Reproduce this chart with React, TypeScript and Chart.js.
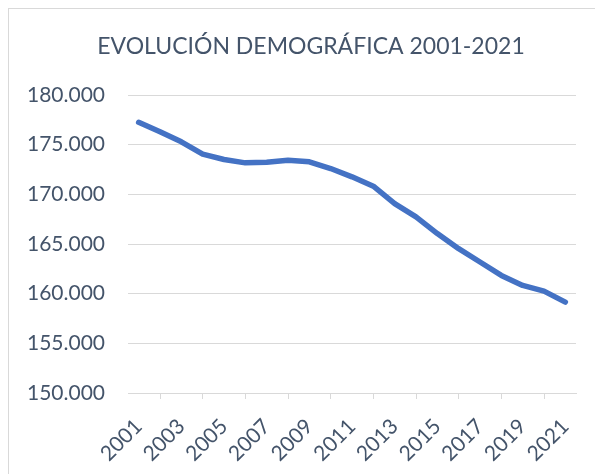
import React, { useEffect, useRef } from "react";
import { Chart, registerables } from "chart.js";

Chart.register(...registerables);

const years: string[] = [
  "2001", "2002", "2003", "2004", "2005", "2006", "2007", "2008", "2009", "2010",
  "2011", "2012", "2013", "2014", "2015", "2016", "2017", "2018", "2019", "2020", "2021",
];
const population: number[] = [
  177250, 176300, 175290, 174050, 173510, 173170, 173240, 173440, 173275, 172600,
  171760, 170820, 169070, 167730, 166050, 164530, 163190, 161840, 160830, 160260, 159150,
];
const titleText = "EVOLUCIÓN DEMOGRÁFICA 2001-2021";
const yMin = 150000;
const yMax = 180000;
const yStep = 5000;

const textColor = "#44546A";
const gridColor = "#D9D9D9";
const lineColor = "#4472C4";
const fontFamily = "Lato, 'Open Sans', sans-serif";

function fmt(v: number): string {
  return Math.round(v).toString().replace(/\B(?=(\d{3})+(?!\d))/g, ".");
}

const titlePlugin = {
  id: "customTitle",
  afterDraw(chart: any) {
    const ctx = chart.ctx;
    ctx.save();
    ctx.fillStyle = textColor;
    ctx.font = `normal 23px ${fontFamily}`;
    ctx.textAlign = "center";
    ctx.textBaseline = "alphabetic";
    ctx.fillText(titleText, chart.width / 2 + 5, 44.5);
    ctx.restore();
  },
};

export default function App() {
  const ref = useRef<HTMLCanvasElement | null>(null);

  useEffect(() => {
    document.documentElement.style.overflow = "hidden";
    const canvas = ref.current;
    if (!canvas) return;
    const chart = new Chart(canvas, {
      type: "line",
      data: {
        labels: years,
        datasets: [
          {
            data: population,
            borderColor: lineColor,
            backgroundColor: lineColor,
            borderWidth: 5.5,
            pointRadius: 0,
            tension: 0,
            borderCapStyle: "round",
            borderJoinStyle: "round",
          },
        ],
      },
      plugins: [titlePlugin],
      options: {
        responsive: false,
        animation: false,
        devicePixelRatio: 1,
        layout: { padding: { left: 0, right: 27, top: 86, bottom: 0 } },
        plugins: {
          legend: { display: false },
          tooltip: { enabled: false },
          title: { display: false },
        },
        scales: {
          x: {
            offset: true,
            grid: {
              offset: true,
              drawOnChartArea: false,
              drawTicks: true,
              tickLength: 6,
              color: gridColor,
            },
            border: { display: true, color: gridColor, width: 1 },
            ticks: {
              autoSkip: false,
              maxRotation: 45,
              minRotation: 45,
              padding: 15,
              color: textColor,
              font: { family: fontFamily, size: 21 },
              callback: function (_v: any, i: number) {
                return i % 2 === 0 ? years[i] : null;
              },
            },
            afterFit: (scale: any) => {
              scale.height = 81;
            },
          },
          y: {
            min: yMin,
            max: yMax,
            grid: { color: gridColor, drawTicks: false, lineWidth: 1 },
            border: { display: false },
            ticks: {
              stepSize: yStep,
              padding: 23,
              color: textColor,
              font: { family: fontFamily, size: 21 },
              callback: (v: any) => fmt(Number(v)),
            },
            afterFit: (scale: any) => {
              scale.width = 119;
            },
          },
        },
      },
    });
    return () => chart.destroy();
  }, []);

  return (
    <div
      style={{
        width: 594,
        height: 465,
        borderLeft: "1px solid #D9D9D9",
        borderTop: "1px solid #D9D9D9",
        overflow: "hidden",
        background: "#FFFFFF",
      }}
    >
      <canvas ref={ref} width={594} height={465} style={{ display: "block" }} />
    </div>
  );
}
